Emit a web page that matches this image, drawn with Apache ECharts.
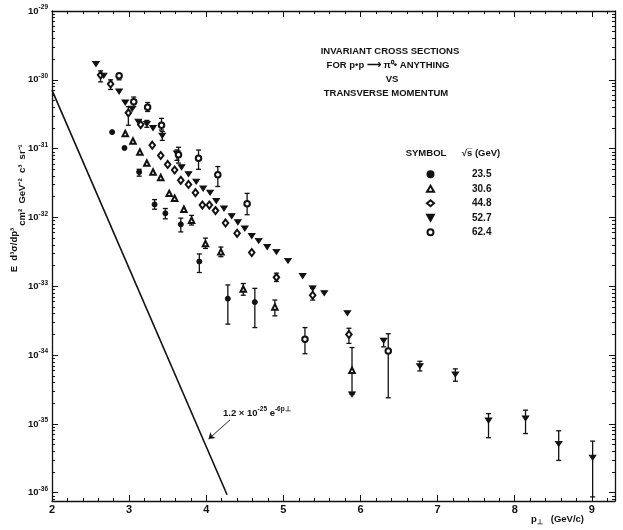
<!DOCTYPE html>
<html>
<head>
<meta charset="utf-8">
<script src="https://cdn.jsdelivr.net/npm/echarts@6/dist/echarts.min.js"></script>
<style>
  html, body { margin: 0; padding: 0; background: #fff; }
  #main { width: 623px; height: 530px; }
</style>
</head>
<body>
<div id="main"></div>
<script>
// x = p_T (GeV/c), y = log10 of E d3s/dp3 (cm2 GeV-2 c3 sr-1)
var s235 = [[2.78,-30.76],[2.94,-30.99],[3.13,-31.34],[3.33,-31.81],[3.47,-31.94],[3.67,-32.10],[3.91,-32.64],[4.28,-33.18],[4.63,-33.23]];
var s306 = [[2.95,-30.78],[3.05,-30.89],[3.14,-31.05],[3.23,-31.21],[3.31,-31.34],[3.41,-31.42],[3.52,-31.65],[3.59,-31.72],[3.71,-31.88],[3.81,-32.04],[3.99,-32.38],[4.19,-32.50],[4.48,-33.04],[4.89,-33.30],[5.89,-34.22]];
var s448 = [[2.63,-29.93],[2.76,-30.06],[2.99,-30.48],[3.15,-30.65],[3.30,-30.95],[3.41,-31.10],[3.50,-31.23],[3.59,-31.31],[3.67,-31.46],[3.77,-31.52],[3.86,-31.64],[3.95,-31.82],[4.04,-31.82],[4.12,-31.90],[4.25,-32.08],[4.40,-32.23],[4.59,-32.51],[4.91,-32.87],[5.38,-33.13],[5.85,-33.70]];
var s527 = [[2.57,-29.77],[2.67,-29.94],[2.87,-30.17],[2.95,-30.33],[3.04,-30.42],[3.12,-30.61],[3.23,-30.64],[3.31,-30.70],[3.43,-30.81],[3.62,-31.07],[3.68,-31.27],[3.77,-31.37],[3.87,-31.48],[3.96,-31.58],[4.05,-31.64],[4.13,-31.76],[4.23,-31.87],[4.33,-31.98],[4.41,-32.07],[4.50,-32.16],[4.59,-32.27],[4.68,-32.34],[4.79,-32.43],[4.91,-32.50],[5.06,-32.63],[5.25,-32.85],[5.38,-33.03],[5.53,-33.10],[5.83,-33.39],[6.30,-33.79],[6.77,-34.16],[7.23,-34.28],[7.66,-34.95],[8.14,-34.92],[8.57,-35.29],[9.01,-35.49]];
var s624 = [[2.87,-29.94],[3.06,-30.32],[3.24,-30.40],[3.42,-30.66],[3.64,-31.09],[3.90,-31.14],[4.15,-31.38],[4.53,-31.80],[5.28,-33.77],[6.36,-33.94]];

// error bars: [x, upper, lower]
var e235 = [[3.13,-31.30,-31.40],[3.33,-31.74,-31.88],[3.47,-31.87,-32.02],[3.67,-32.01,-32.21],[3.91,-32.53,-32.80],[4.28,-32.98,-33.55],[4.63,-33.03,-33.60]];
var e306 = [[3.81,-31.97,-32.11],[3.99,-32.30,-32.45],[4.19,-32.43,-32.57],[4.48,-32.96,-33.13],[4.89,-33.20,-33.43],[5.89,-33.89,-34.57]];
var e448 = [[2.63,-29.87,-30.03],[2.76,-30.00,-30.14],[2.99,-30.39,-30.66],[4.91,-32.81,-32.93],[5.38,-33.03,-33.20],[5.85,-33.61,-33.83]];
var e527 = [[3.23,-30.59,-30.69],[3.43,-30.75,-30.88],[3.62,-31.02,-31.17],[6.30,-33.76,-33.88],[6.77,-34.09,-34.23],[7.23,-34.20,-34.38],[7.66,-34.85,-35.20],[8.14,-34.80,-35.14],[8.57,-35.10,-35.53],[9.01,-35.25,-36.06]];
var e624 = [[2.87,-29.91,-30.00],[3.06,-30.25,-30.39],[3.24,-30.33,-30.46],[3.42,-30.56,-30.73],[3.64,-30.98,-31.21],[3.90,-31.02,-31.30],[4.15,-31.26,-31.55],[4.53,-31.65,-31.96],[5.28,-33.60,-33.98],[6.36,-33.69,-34.62]];
var limits = [[5.89,-34.57]];

// 1.2e-25 exp(-6 pT), end points
var fitLine = [[2,-30.15],[4.27,-36.03]];
var fitArrow = [[4.31,-34.94],[4.03,-35.22]];

var xMajorTicks = [2,3,4,5,6,7,8,9];
var yMajorTicks = [-36,-35,-34,-33,-32,-31,-30,-29];
var xMin = 2, xMax = 9.3, yMin = -36.12, yMax = -29;

var xMinorTicks = [];
for (var i = 0; i < 37; i++) {
  var v = Math.round((2 + i * 0.2) * 10) / 10;
  if (v % 1 !== 0 && v < xMax) xMinorTicks.push(v);
}
var yMinorTicks = [];
for (var n = -37; n < -29; n++) {
  for (var k = 2; k <= 9; k++) {
    var t = n + Math.log10(k);
    if (t > yMin && t < yMax) yMinorTicks.push(t);
  }
}

var FONT = '"Liberation Sans", Arial, sans-serif';
var INK = '#111';
var DOWN = 'path://M0,0 L10,0 L5,9 Z';

var myChart = echarts.init(document.getElementById('main'));

function errorSeries(name, data) {
  return {
    name: name + ' err',
    type: 'custom',
    data: data,
    silent: true,
    z: 1,
    encode: { x: 0, y: [1, 2] },
    renderItem: function (params, api) {
      var x = api.value(0);
      var hi = api.coord([x, api.value(1)]);
      var lo = api.coord([x, api.value(2)]);
      var w = 2.5;
      var st = { stroke: INK, lineWidth: 1.3 };
      return {
        type: 'group',
        children: [
          { type: 'line', shape: { x1: hi[0], y1: hi[1], x2: lo[0], y2: lo[1] }, style: st },
          { type: 'line', shape: { x1: hi[0] - w, y1: hi[1], x2: hi[0] + w, y2: hi[1] }, style: st },
          { type: 'line', shape: { x1: lo[0] - w, y1: lo[1], x2: lo[0] + w, y2: lo[1] }, style: st }
        ]
      };
    }
  };
}

function axisX(pos, major, labels) {
  return {
    type: 'value', position: pos, min: xMin, max: xMax,
    axisLine: { show: major, onZero: false, lineStyle: { color: INK, width: 1.3 } },
    axisTick: { show: true, inside: true, length: major ? 6 : 3,
      customValues: major ? xMajorTicks : xMinorTicks, lineStyle: { color: INK, width: 1 } },
    axisLabel: { show: labels, customValues: xMajorTicks, margin: 3, color: INK,
      fontFamily: FONT, fontWeight: 'bold', fontSize: 11 },
    splitLine: { show: false }
  };
}

function axisY(pos, major, labels) {
  return {
    type: 'value', position: pos, min: yMin, max: yMax,
    axisLine: { show: major, onZero: false, lineStyle: { color: INK, width: 1.3 } },
    axisTick: { show: true, inside: true, length: major ? 6 : 3,
      customValues: major ? yMajorTicks : yMinorTicks, lineStyle: { color: INK, width: 1 } },
    axisLabel: {
      show: labels, customValues: yMajorTicks, margin: 4,
      formatter: function (v) { return '{b|10}{s|' + Math.round(v) + '}'; },
      rich: {
        b: { fontFamily: FONT, fontWeight: 'bold', fontSize: 9.5, color: INK, lineHeight: 14 },
        s: { fontFamily: FONT, fontWeight: 'bold', fontSize: 6.5, color: INK, verticalAlign: 'top', lineHeight: 14 }
      }
    },
    splitLine: { show: false }
  };
}

function pts(name, data, symbol, size) {
  return {
    name: name, type: 'scatter', data: data, symbol: symbol, symbolSize: size, z: 3,
    symbolKeepAspect: true,
    itemStyle: { color: INK, borderColor: INK, borderWidth: 1, opacity: 1 }
  };
}

var option = {
  animation: false,
  backgroundColor: '#fff',
  grid: { left: 52, right: 8, top: 11, bottom: 29, containLabel: false },
  xAxis: [axisX('bottom', true, true), axisX('bottom', false, false), axisX('top', true, false), axisX('top', false, false)],
  yAxis: [axisY('left', true, true), axisY('left', false, false), axisY('right', true, false), axisY('right', false, false)],
  legend: {
    data: ['23.5', '30.6', '44.8', '52.7', '62.4'],
    orient: 'vertical', left: 421, top: 162,
    itemWidth: 7, itemHeight: 6, itemGap: 0,
    symbolKeepAspect: true,
    selectedMode: false,
    textStyle: { fontFamily: FONT, fontWeight: 'bold', fontSize: 10, color: INK, lineHeight: 14.5, padding: [0, 0, 0, 33] }
  },
  series: [
    {
      name: 'fit', type: 'line', data: fitLine, symbol: 'none', z: 2, silent: true,
      lineStyle: { color: INK, width: 1.6 },
      markLine: {
        silent: true, symbol: ['none', 'arrow'], symbolSize: 6,
        lineStyle: { color: INK, width: 0.9, type: 'solid' },
        label: { show: false },
        data: [[{ coord: fitArrow[0] }, { coord: fitArrow[1] }]]
      }
    },
    errorSeries('23.5', e235),
    errorSeries('30.6', e306),
    errorSeries('44.8', e448),
    errorSeries('52.7', e527),
    errorSeries('62.4', e624),
    pts('23.5', s235, 'circle', 5),
    pts('30.6', s306, 'emptyTriangle', 5.5),
    pts('44.8', s448, 'emptyDiamond', [5.5, 7]),
    pts('52.7', s527, DOWN, [6.5, 5.5]),
    pts('62.4', s624, 'emptyCircle', 5.5),
    pts('limit', limits, DOWN, [6.5, 5.5])
  ],
  graphic: [
    { type: 'text', x: 390, y: 51, style: { text: 'INVARIANT CROSS SECTIONS', font: 'bold 9.5px ' + FONT, fill: INK, align: 'center', verticalAlign: 'middle' } },
    { type: 'text', x: 388, y: 65, style: { text: 'FOR p\u2022p \u27F6 \u03C0\u2070\u2022 ANYTHING', font: 'bold 9.5px ' + FONT, fill: INK, align: 'center', verticalAlign: 'middle' } },
    { type: 'text', x: 392, y: 79, style: { text: 'VS', font: 'bold 9.5px ' + FONT, fill: INK, align: 'center', verticalAlign: 'middle' } },
    { type: 'text', x: 386, y: 93, style: { text: 'TRANSVERSE MOMENTUM', font: 'bold 9.5px ' + FONT, fill: INK, align: 'center', verticalAlign: 'middle' } },
    { type: 'text', x: 426, y: 153, style: { text: 'SYMBOL', font: 'bold 9.5px ' + FONT, fill: INK, align: 'center', verticalAlign: 'middle' } },
    { type: 'text', x: 481, y: 153, style: { text: '\u221As\u0305 (GeV)', font: 'bold 9.5px ' + FONT, fill: INK, align: 'center', verticalAlign: 'middle' } },
    {
      type: 'text', x: 223, y: 413,
      style: {
        text: '{n|1.2 \u00D7 10}{s|-25}{n| e}{s|-6p\u22A5}',
        rich: {
          n: { font: 'bold 9.5px ' + FONT, fill: INK, lineHeight: 14 },
          s: { font: 'bold 6.5px ' + FONT, fill: INK, verticalAlign: 'top', lineHeight: 14 }
        },
        verticalAlign: 'middle'
      }
    },
    {
      type: 'text', x: 531, y: 519,
      style: {
        text: '{n|p}{u|\u22A5}{n|   (GeV/c)}',
        rich: {
          n: { font: 'bold 9.5px ' + FONT, fill: INK, lineHeight: 14 },
          u: { font: 'bold 6.5px ' + FONT, fill: INK, verticalAlign: 'bottom', lineHeight: 14 }
        },
        verticalAlign: 'middle'
      }
    },
    {
      type: 'text', x: 14, y: 250, rotation: Math.PI / 2,
      style: { text: 'E  d\u00B3\u03C3/dp\u00B3', font: 'bold 9.5px ' + FONT, fill: INK, align: 'center', verticalAlign: 'middle' }
    },
    {
      type: 'text', x: 22, y: 185, rotation: Math.PI / 2,
      style: { text: 'cm\u00B2  GeV\u207B\u00B2  c\u00B3  sr\u207B\u00B9', font: 'bold 9.5px ' + FONT, fill: INK, align: 'center', verticalAlign: 'middle' }
    }
  ]
};

myChart.setOption(option);
</script>
</body>
</html>
